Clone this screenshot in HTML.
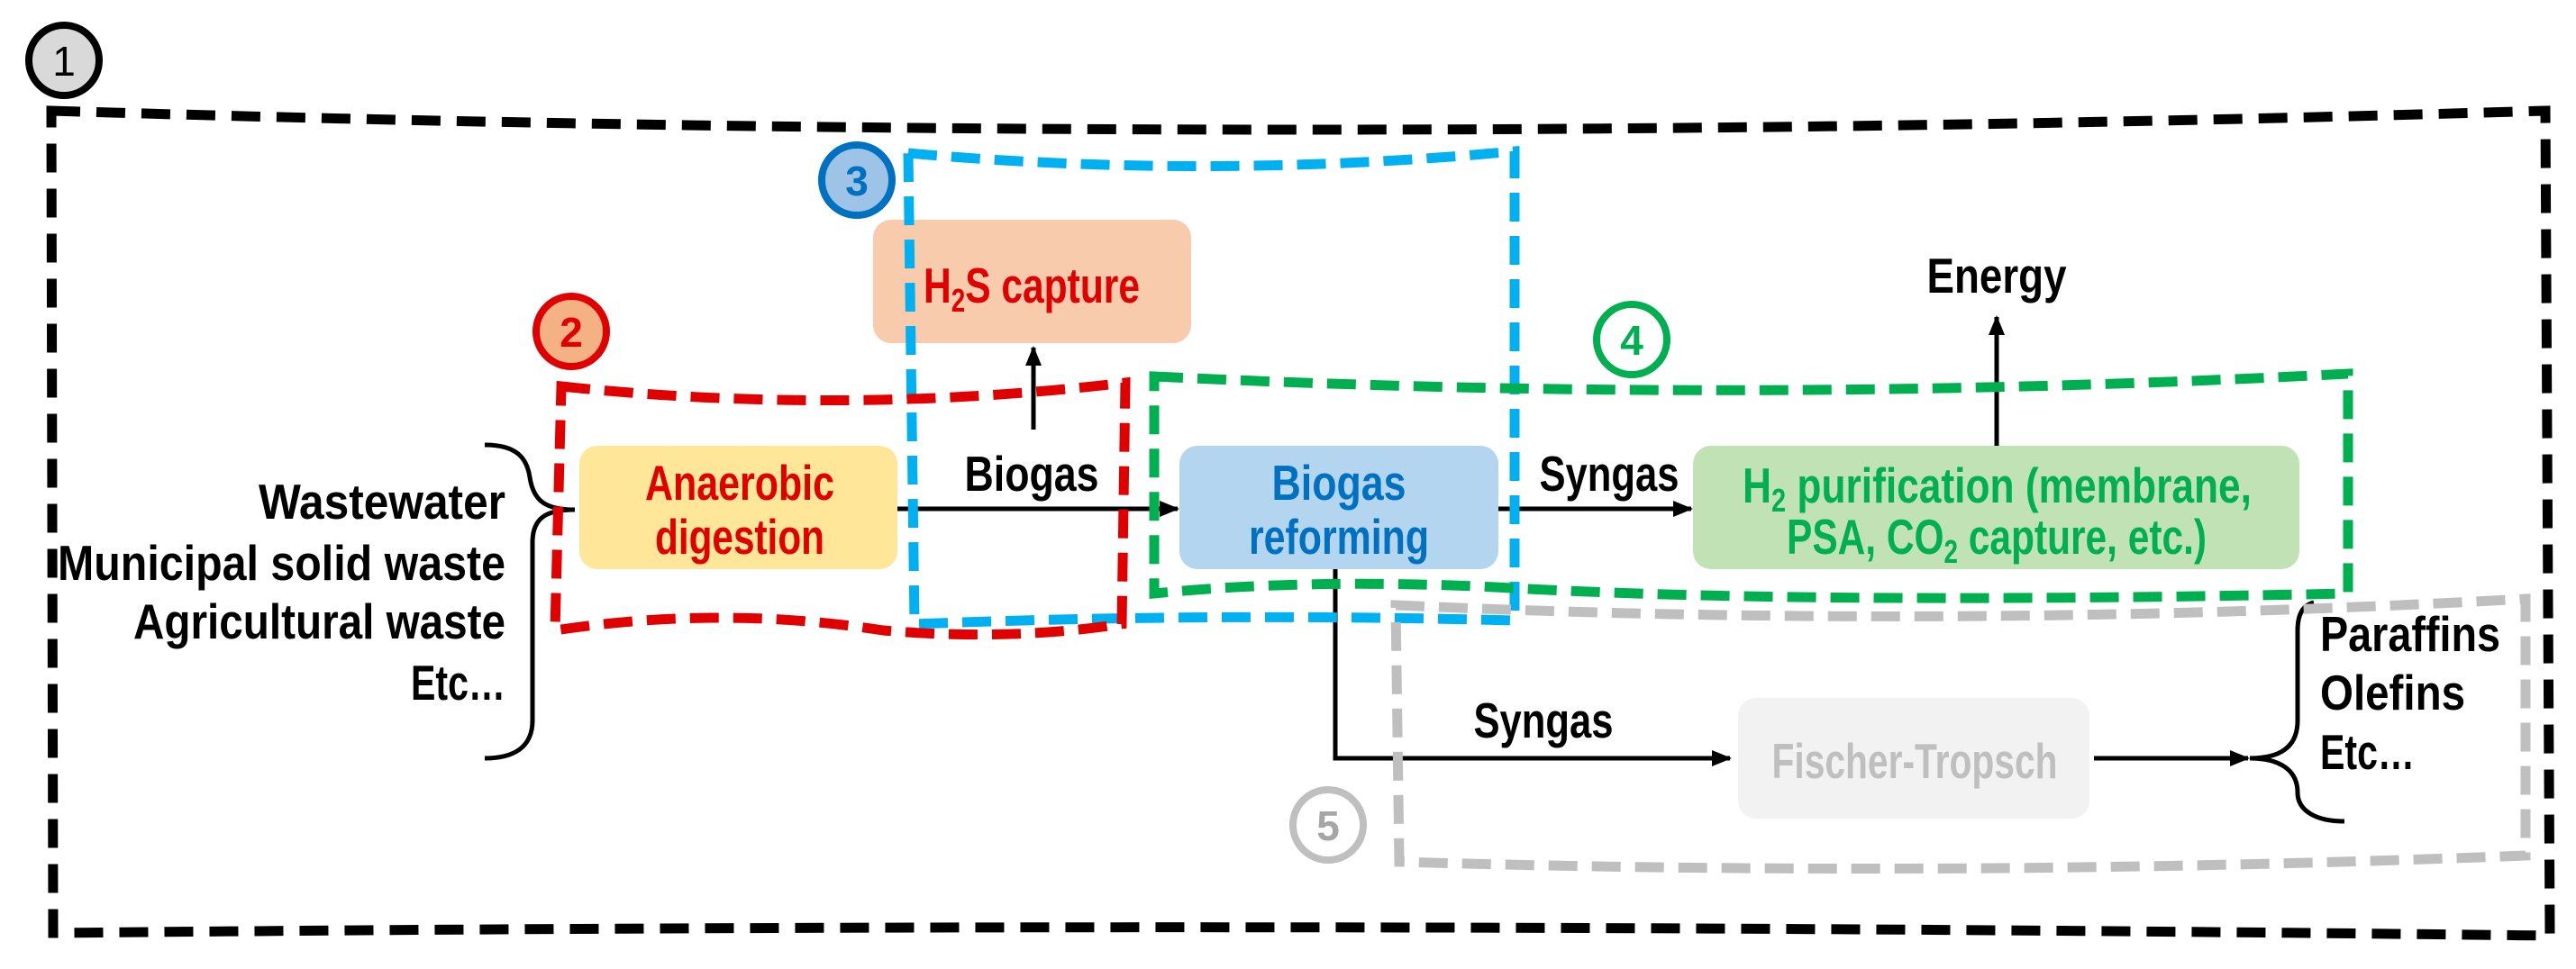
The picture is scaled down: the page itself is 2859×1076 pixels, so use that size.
<!DOCTYPE html>
<html><head><meta charset="utf-8"><style>
html,body{margin:0;padding:0;background:#fff}
svg{display:block}
text{font-family:"Liberation Sans",sans-serif;font-weight:bold}
</style></head><body>
<svg width="2859" height="1076" viewBox="0 0 2859 1076" xmlns="http://www.w3.org/2000/svg">
<defs>
<marker id="ah2" markerWidth="22" markerHeight="22" refX="20" refY="11" orient="auto" markerUnits="userSpaceOnUse" viewBox="0 0 22 22">
<path d="M0,2 L22,11 L0,20 z" fill="#000"/></marker>
</defs>

<rect x="969" y="244" width="353" height="137" rx="20" fill="#f8cbad"/>
<rect x="643" y="495" width="353" height="137" rx="20" fill="#ffe699"/>
<rect x="1309" y="495" width="354" height="137" rx="20" fill="#b4d5ef"/>
<rect x="1879" y="495" width="673" height="137" rx="20" fill="#c0e2b4"/>
<rect x="1929" y="775" width="390" height="134" rx="20" fill="#f2f2f2"/>

<g stroke="#000" stroke-width="5" fill="none">
<line x1="996" y1="565" x2="1307" y2="565" marker-end="url(#ah2)"/>
<line x1="1147" y1="477" x2="1147" y2="386" marker-end="url(#ah2)"/>
<line x1="1663" y1="565" x2="1877" y2="565" marker-end="url(#ah2)"/>
<line x1="2216" y1="495" x2="2216" y2="352" marker-end="url(#ah2)"/>
<polyline points="1482,632 1482,842 1920,842" marker-end="url(#ah2)"/>
<line x1="2324" y1="842" x2="2495" y2="842" marker-end="url(#ah2)"/>
<path d="M538,494 C575,494 585,510 588,530 C592,556 605,566 638,566 C605,566 592,576 591,600 L591,800 C591,830 570,842 538,842"/>
<path d="M2568,669 C2555,672 2550,684 2550,700 L2550,800 C2550,830 2530,842 2497,842 C2530,842 2550,855 2550,880 C2550,900 2570,912 2602,912"/>
</g>

<g fill="none" stroke-width="11">
<path d="M57,123 Q1440,165 2825,123 L2830,1039 Q1440,1022 59,1036 Z" stroke="#000" stroke-dasharray="32 18"/>
<path d="M1008,170 Q1340,200 1681,168 L1681,689 Q1340,680 1015,693 Z" stroke="#00b0f0" stroke-dasharray="32 16"/>
<path d="M623,429 Q935,462 1249,425 L1245,693 Q1120,712 980,700 Q800,672 616,700 Z" stroke="#e00000" stroke-dasharray="32 16"/>
<path d="M1281,418 Q1940,450 2606,415 L2606,659 Q2000,672 1660,652 Q1450,642 1281,659 Z" stroke="#00b050" stroke-dasharray="32 16"/>
<path d="M1549,672 Q2170,700 2803,665 L2803,950 Q2170,975 1553,957 Z" stroke="#bfbfbf" stroke-dasharray="32 16"/>
</g>

<g stroke-width="8">
<circle cx="71" cy="67" r="39" fill="#d9d9d9" stroke="#000"/>
<circle cx="634" cy="368" r="39" fill="#f4b183" stroke="#e00000"/>
<circle cx="951" cy="200" r="39" fill="#9dc3e6" stroke="#0070c0"/>
<circle cx="1811" cy="377" r="39" fill="#fff" stroke="#00b050"/>
<circle cx="1474" cy="916" r="39" fill="#fff" stroke="#bfbfbf"/>
</g>
<g font-size="46" text-anchor="middle">
<text x="71" y="84" fill="#000" style="font-weight:normal">1</text>
<text x="634" y="385" fill="#e00000">2</text>
<text x="951" y="217" fill="#0070c0">3</text>
<text x="1811" y="394" fill="#00b050">4</text>
<text x="1474" y="933" fill="#a6a6a6">5</text>
</g>

<g font-size="55">
<text x="561" y="576" text-anchor="end" textLength="274" lengthAdjust="spacingAndGlyphs">Wastewater</text>
<text x="561" y="644" text-anchor="end" textLength="497" lengthAdjust="spacingAndGlyphs">Municipal solid waste</text>
<text x="561" y="709" text-anchor="end" textLength="413" lengthAdjust="spacingAndGlyphs">Agricultural waste</text>
<text x="561" y="777" text-anchor="end" textLength="105" lengthAdjust="spacingAndGlyphs">Etc…</text>

<text x="821" y="555" text-anchor="middle" fill="#e00000" textLength="210" lengthAdjust="spacingAndGlyphs">Anaerobic</text>
<text x="821" y="615" text-anchor="middle" fill="#e00000" textLength="188" lengthAdjust="spacingAndGlyphs">digestion</text>

<text x="1025" y="336" fill="#e00000" textLength="240" lengthAdjust="spacingAndGlyphs">H<tspan font-size="36" dy="10">2</tspan><tspan dy="-10">S capture</tspan></text>

<text x="1145" y="545" text-anchor="middle" textLength="149" lengthAdjust="spacingAndGlyphs">Biogas</text>

<text x="1486" y="555" text-anchor="middle" fill="#0070c0" textLength="149" lengthAdjust="spacingAndGlyphs">Biogas</text>
<text x="1486" y="615" text-anchor="middle" fill="#0070c0" textLength="200" lengthAdjust="spacingAndGlyphs">reforming</text>

<text x="1786" y="545" text-anchor="middle" textLength="155" lengthAdjust="spacingAndGlyphs">Syngas</text>

<text x="1934" y="558" fill="#00b050" textLength="565" lengthAdjust="spacingAndGlyphs">H<tspan font-size="36" dy="10">2</tspan><tspan dy="-10"> purification (membrane,</tspan></text>
<text x="1983" y="615" fill="#00b050" textLength="466" lengthAdjust="spacingAndGlyphs">PSA, CO<tspan font-size="36" dy="10">2</tspan><tspan dy="-10"> capture, etc.)</tspan></text>

<text x="2216" y="325" text-anchor="middle" textLength="155" lengthAdjust="spacingAndGlyphs">Energy</text>

<text x="1713" y="819" text-anchor="middle" textLength="155" lengthAdjust="spacingAndGlyphs">Syngas</text>

<text x="2125" y="864" text-anchor="middle" fill="#bfbfbf" textLength="317" lengthAdjust="spacingAndGlyphs">Fischer-Tropsch</text>

<text x="2575" y="723" textLength="200" lengthAdjust="spacingAndGlyphs">Paraffins</text>
<text x="2575" y="788" textLength="161" lengthAdjust="spacingAndGlyphs">Olefins</text>
<text x="2575" y="854" textLength="105" lengthAdjust="spacingAndGlyphs">Etc…</text>
</g>
</svg>
</body></html>
